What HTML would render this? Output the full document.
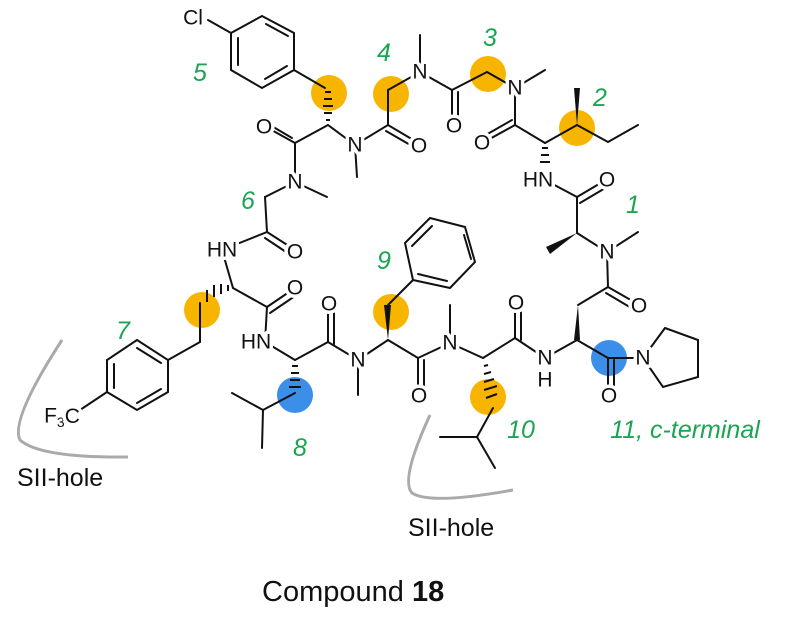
<!DOCTYPE html>
<html><head><meta charset="utf-8"><style>
html,body{margin:0;padding:0;background:#fff;}
svg{display:block;}
.b{stroke:#111;stroke-width:2;fill:none;stroke-linecap:round;}
.a{font-family:"Liberation Sans",sans-serif;font-size:21px;fill:#111;text-anchor:middle;dominant-baseline:central;stroke:#fff;stroke-width:7px;paint-order:stroke;stroke-linejoin:round;}
.g{font-family:"Liberation Sans",sans-serif;font-size:25px;font-style:italic;fill:#1aa552;text-anchor:middle;font-weight:500;}
.t{font-family:"Liberation Sans",sans-serif;fill:#111;}
.oc{fill:#f7b500;}
.bc{fill:#3b8fe8;}
</style></head><body>
<svg width="798" height="632" viewBox="0 0 798 632" xmlns="http://www.w3.org/2000/svg">
<circle class="oc" cx="329" cy="93" r="18"/>
<circle class="oc" cx="391" cy="94" r="18"/>
<circle class="oc" cx="488" cy="74" r="18"/>
<circle class="oc" cx="577" cy="128" r="18"/>
<circle class="oc" cx="202" cy="310" r="18"/>
<circle class="oc" cx="391" cy="312" r="18"/>
<circle class="oc" cx="488" cy="397" r="18"/>
<circle class="bc" cx="295" cy="395" r="18"/>
<circle class="bc" cx="609" cy="358" r="18"/>

<path d="M62 340 Q10 420 20 440 Q40 458 128 457" stroke="#aaa" stroke-width="3" fill="none"/>
<path d="M430 415 Q400 480 412 493 Q430 505 513 490" stroke="#aaa" stroke-width="3" fill="none"/>

<g class="b">
<polygon points="262,16 294,33 294,70 262,88 231,70 231,33"/>
<line x1="266" y1="24" x2="288" y2="36"/><line x1="287" y1="66" x2="265" y2="79"/><line x1="238" y1="38" x2="238" y2="65"/>
<line x1="208" y1="20" x2="231" y2="33"/>
<line x1="294" y1="70" x2="325" y2="88"/>
<line x1="328" y1="125" x2="295" y2="143"/>
<line x1="295" y1="143" x2="268" y2="128"/><line x1="292" y1="138" x2="270" y2="125"/>
<line x1="328" y1="125" x2="355" y2="145"/>
<line x1="355" y1="145" x2="357" y2="177"/>
<line x1="355" y1="145" x2="388" y2="125"/>
<line x1="388" y1="125" x2="415" y2="141"/><line x1="386" y1="131" x2="412" y2="146"/>
<line x1="388" y1="125" x2="388" y2="90"/>
<line x1="388" y1="90" x2="420" y2="72"/>
<line x1="420" y1="72" x2="420" y2="35"/>
<line x1="295" y1="143" x2="295" y2="182"/>
<line x1="295" y1="182" x2="327" y2="197"/>
<line x1="295" y1="182" x2="265" y2="197"/>
<line x1="265" y1="197" x2="267" y2="232"/>
<line x1="420" y1="72" x2="452" y2="90"/>
<line x1="452" y1="90" x2="452" y2="122"/><line x1="458" y1="92" x2="458" y2="122"/>
<line x1="452" y1="90" x2="487" y2="72"/>
<line x1="487" y1="72" x2="515" y2="88"/>
<line x1="515" y1="88" x2="545" y2="70"/>
<line x1="515" y1="88" x2="515" y2="125"/>
<line x1="515" y1="125" x2="486" y2="141"/><line x1="512" y1="120" x2="484" y2="136"/>
<line x1="515" y1="125" x2="545" y2="143"/>
<line x1="545" y1="143" x2="577" y2="125"/>
<line x1="577" y1="125" x2="608" y2="142"/>
<line x1="608" y1="142" x2="638" y2="125"/>
<line x1="545" y1="180" x2="577" y2="197"/>
<line x1="577" y1="197" x2="604" y2="181"/><line x1="580" y1="203" x2="607" y2="187"/>
<line x1="577" y1="197" x2="577" y2="233"/>
<line x1="577" y1="233" x2="607" y2="252"/>
<line x1="607" y1="252" x2="638" y2="232"/>
<line x1="607" y1="252" x2="608" y2="287"/>
<line x1="608" y1="287" x2="636" y2="303"/><line x1="606" y1="293" x2="633" y2="309"/>
<line x1="608" y1="287" x2="578" y2="305"/>
<line x1="577" y1="340" x2="545" y2="358"/>
<line x1="577" y1="340" x2="608" y2="358"/>
<line x1="608" y1="358" x2="608" y2="392"/><line x1="614" y1="360" x2="614" y2="392"/>
<line x1="608" y1="358" x2="643" y2="358"/>
<polygon points="643,358 665,328 698,340 698,377 663,387"/>
<line x1="545" y1="358" x2="515" y2="338"/>
<line x1="515" y1="338" x2="515" y2="305"/><line x1="521" y1="340" x2="521" y2="305"/>
<line x1="515" y1="338" x2="483" y2="358"/>
<line x1="483" y1="358" x2="450" y2="343"/>
<line x1="450" y1="343" x2="450" y2="305"/>
<line x1="493" y1="408" x2="477" y2="437"/>
<line x1="477" y1="437" x2="440" y2="437"/>
<line x1="477" y1="437" x2="495" y2="468"/>
<line x1="450" y1="343" x2="418" y2="358"/>
<line x1="418" y1="358" x2="418" y2="392"/><line x1="424" y1="360" x2="424" y2="392"/>
<line x1="418" y1="358" x2="388" y2="340"/>
<line x1="388" y1="305" x2="413" y2="280"/>
<polygon points="413,280 405,243 430,218 465,227 475,262 450,288"/>
<line x1="412" y1="246" x2="432" y2="226"/><line x1="464" y1="235" x2="471" y2="259"/><line x1="447" y1="281" x2="418" y2="274"/>
<line x1="388" y1="340" x2="358" y2="360"/>
<line x1="358" y1="360" x2="358" y2="395"/>
<line x1="358" y1="360" x2="328" y2="342"/>
<line x1="328" y1="342" x2="328" y2="308"/><line x1="334" y1="344" x2="334" y2="308"/>
<line x1="328" y1="342" x2="295" y2="360"/>
<line x1="295" y1="360" x2="265" y2="342"/>
<line x1="295" y1="393" x2="263" y2="410"/>
<line x1="263" y1="410" x2="232" y2="393"/>
<line x1="263" y1="410" x2="262" y2="448"/>
<line x1="265" y1="342" x2="267" y2="307"/>
<line x1="267" y1="307" x2="292" y2="290"/><line x1="270" y1="313" x2="295" y2="296"/>
<line x1="267" y1="307" x2="233" y2="288"/>
<line x1="233" y1="288" x2="222" y2="250"/>
<line x1="222" y1="250" x2="267" y2="232"/>
<line x1="267" y1="232" x2="292" y2="248"/><line x1="265" y1="238" x2="289" y2="254"/>
<line x1="200" y1="303" x2="200" y2="342"/>
<line x1="200" y1="342" x2="168" y2="360"/>
<polygon points="137,340 168,360 168,392 137,410 107,392 107,360"/>
<line x1="137" y1="348" x2="161" y2="363"/><line x1="161" y1="389" x2="137" y2="403"/><line x1="114" y1="364" x2="114" y2="388"/>
<line x1="107" y1="392" x2="80" y2="410"/>
</g>
<g fill="#111">
<polygon points="577,125 574,88 580,88"/>
<polygon points="577,233 546,247 550,254"/>
<polygon points="578,305 574,340 580,340"/>
<polygon points="388,340 384,305 391,305"/>
</g>
<g stroke="#111" stroke-width="2">
<line x1="325" y1="92" x2="331" y2="92"/><line x1="324" y1="99" x2="332" y2="99"/><line x1="323" y1="106" x2="333" y2="106"/><line x1="324" y1="113" x2="332" y2="113"/><line x1="326" y1="120" x2="330" y2="120"/>
<line x1="542" y1="148" x2="548" y2="148"/><line x1="541" y1="155" x2="549" y2="155"/><line x1="540" y1="162" x2="550" y2="162"/>
<line x1="228" y1="285" x2="228" y2="291"/><line x1="221" y1="284" x2="221" y2="294"/><line x1="214" y1="285" x2="214" y2="297"/><line x1="207" y1="290" x2="207" y2="302"/>
<line x1="292" y1="366" x2="298" y2="366"/><line x1="291" y1="373" x2="299" y2="373"/><line x1="290" y1="380" x2="300" y2="380"/><line x1="289" y1="387" x2="301" y2="387"/>
<line x1="484" y1="366" x2="488" y2="365"/><line x1="484" y1="374" x2="491" y2="372"/><line x1="484" y1="382" x2="494" y2="379"/><line x1="484" y1="390" x2="497" y2="386"/><line x1="486" y1="398" x2="497" y2="394"/>
</g>
<text class="a" x="193" y="18">Cl</text>
<text class="a" x="264" y="127">O</text>
<text class="a" x="355" y="145">N</text>
<text class="a" x="419" y="146">O</text>
<text class="a" x="420" y="72">N</text>
<text class="a" x="295" y="182">N</text>
<text class="a" x="454" y="126">O</text>
<text class="a" x="515" y="88">N</text>
<text class="a" x="482" y="143">O</text>
<text class="a" x="538" y="180">HN</text>
<text class="a" x="607" y="180">O</text>
<text class="a" x="607" y="252">N</text>
<text class="a" x="639" y="306">O</text>
<text class="a" x="643" y="358">N</text>
<text class="a" x="609" y="396">O</text>
<text class="a" x="545" y="358">N</text>
<text class="a" x="545" y="380">H</text>
<text class="a" x="516" y="303">O</text>
<text class="a" x="450" y="343">N</text>
<text class="a" x="419" y="396">O</text>
<text class="a" x="358" y="360">N</text>
<text class="a" x="329" y="304">O</text>
<text class="a" x="256" y="342">HN</text>
<text class="a" x="295" y="288">O</text>
<text class="a" x="222" y="250">HN</text>
<text class="a" x="295" y="252">O</text>
<text class="a" x="62" y="416">F<tspan font-size="14" dy="6">3</tspan><tspan dy="-6">C</tspan></text>
<text class="g" x="200" y="81">5</text>
<text class="g" x="384" y="61">4</text>
<text class="g" x="490" y="46">3</text>
<text class="g" x="600" y="106">2</text>
<text class="g" x="633" y="213">1</text>
<text class="g" x="248" y="209">6</text>
<text class="g" x="384" y="269">9</text>
<text class="g" x="123" y="339">7</text>
<text class="g" x="300" y="456">8</text>
<text class="g" x="521" y="438">10</text>
<text class="g" x="685" y="438" font-size="26">11, c-terminal</text>
<text class="t" x="17" y="486" font-size="25">SII-hole</text>
<text class="t" x="408" y="536" font-size="25">SII-hole</text>
<text class="t" x="262" y="601" font-size="29">Compound <tspan font-weight="bold">18</tspan></text>
</svg>
</body></html>
